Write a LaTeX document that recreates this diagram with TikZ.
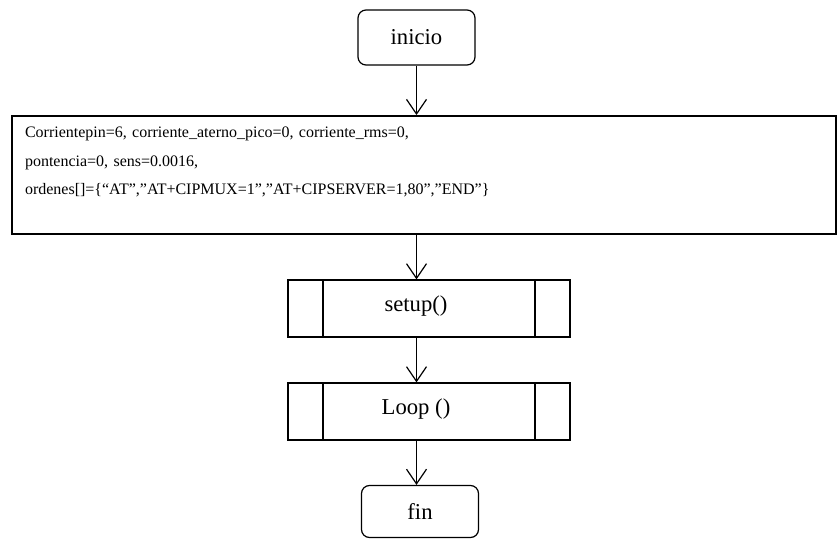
\documentclass[tikz,border=0pt]{standalone}
\usepackage{fontspec}
\setmainfont{Liberation Serif}
\usetikzlibrary{arrows.meta}

\begin{document}
\begin{tikzpicture}[x=0.75pt,y=-0.75pt,font=\fontsize{12}{21.4}\selectfont]
	\tikzstyle{etiqueta}=[font=\fontsize{17}{20}\selectfont]
	\tikzstyle{terminal}=[rectangle, rounded corners=6pt, minimum width=87.75pt, minimum height=41.25pt, draw=black, line width=0.9pt, etiqueta]
	\tikzstyle{datos}=[rectangle, minimum width=618pt, minimum height=88.5pt, text width=598.5pt, inner xsep=9.75pt, align=left, draw=black, line width=1.4pt]
	\tikzstyle{subproceso}=[rectangle, minimum width=211.5pt, minimum height=42.75pt, draw=black, line width=0.9pt,
		path picture={
			\draw[line width=0.9pt] ([xshift=26.25pt]path picture bounding box.north west) -- ([xshift=26.25pt]path picture bounding box.south west);
			\draw[line width=0.9pt] ([xshift=-26.25pt]path picture bounding box.north east) -- ([xshift=-26.25pt]path picture bounding box.south east);
		}]
	\tikzstyle{flecha}=[-{Straight Barb[length=11pt,width=15pt]}, line width=0.9pt]
	\useasboundingbox (0,0) rectangle (839,539);

	\node[terminal] (inicio) at (416.5,37.5) {inicio};

	\node[datos] (variables) at (424,175) {
		Corrientepin=6, corriente\_aterno\_pico=0, corriente\_rms=0,\\
		pontencia=0, sens=0.0016,\\
		ordenes[]=\{“AT”,”AT+CIPMUX=1”,”AT+CIPSERVER=1,80”,”END”\}\\
		\mbox{}
	};

	\node[subproceso, label={[etiqueta, xshift=-9.75pt, yshift=2pt]center:setup()}] (setup) at (429,308.5) {};
	\node[subproceso, label={[etiqueta, xshift=-9.75pt, yshift=2pt]center:Loop ()}] (loop) at (429,411.5) {};

	\node[terminal, minimum height=39pt] (fin) at (420,511.5) {fin};

	\draw[flecha] (inicio) -- (inicio |- variables.north);
	\draw[flecha] (variables.south -| inicio) -- (inicio |- setup.north);
	\draw[flecha] (setup.south -| inicio) -- (inicio |- loop.north);
	\draw[flecha] (loop.south -| inicio) -- (inicio |- fin.north);

\end{tikzpicture}
\end{document}
